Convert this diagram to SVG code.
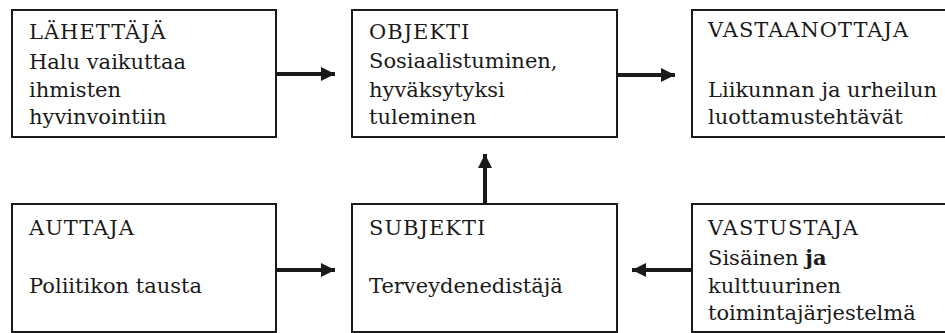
<svg xmlns="http://www.w3.org/2000/svg" width="945" height="333" viewBox="0 0 945 333">
  <defs>
    <style>
      .box { fill: #fff; stroke: #1a1a1a; stroke-width: 2; }
      .txt { font-family: "DejaVu Serif", "Liberation Serif", serif; font-size: 21px; fill: #1a1a1a; }
      .cap { letter-spacing: 1px; }
      .link { stroke: #1a1a1a; stroke-width: 4; fill: none; }
    </style>
    <marker id="head" viewBox="0 0 14 14" refX="14" refY="7" markerWidth="14" markerHeight="14" markerUnits="userSpaceOnUse" orient="auto">
      <path d="M0,0 L14,7 L0,14 Z" fill="#1a1a1a"/>
    </marker>
  </defs>
  <rect width="945" height="333" fill="#fff"/>

  <g id="lahettaja">
    <rect class="box" x="12" y="10" width="264" height="127"/>
    <text class="txt cap" x="29" y="39">LÄHETTÄJÄ</text>
    <text class="txt" x="29" y="69">Halu vaikuttaa</text>
    <text class="txt" x="29" y="97">ihmisten</text>
    <text class="txt" x="29" y="124">hyvinvointiin</text>
  </g>

  <g id="objekti">
    <rect class="box" x="352" y="10" width="265" height="127"/>
    <text class="txt cap" x="369" y="39">OBJEKTI</text>
    <text class="txt" x="369" y="68">Sosiaalistuminen,</text>
    <text class="txt" x="369" y="97">hyväksytyksi</text>
    <text class="txt" x="369" y="124">tuleminen</text>
  </g>

  <g id="vastaanottaja">
    <rect class="box" x="692" y="10" width="260" height="127"/>
    <text class="txt cap" x="708" y="37">VASTAANOTTAJA</text>
    <text class="txt" x="708" y="97">Liikunnan ja urheilun</text>
    <text class="txt" x="708" y="124">luottamustehtävät</text>
  </g>

  <g id="auttaja">
    <rect class="box" x="12" y="204" width="264" height="128"/>
    <text class="txt cap" x="29" y="235">AUTTAJA</text>
    <text class="txt" x="29" y="293">Poliitikon tausta</text>
  </g>

  <g id="subjekti">
    <rect class="box" x="352" y="204" width="265" height="128"/>
    <text class="txt cap" x="369" y="235">SUBJEKTI</text>
    <text class="txt" x="369" y="293">Terveydenedistäjä</text>
  </g>

  <g id="vastustaja">
    <rect class="box" x="692" y="204" width="260" height="128"/>
    <text class="txt cap" x="708" y="235">VASTUSTAJA</text>
    <text class="txt" x="708" y="265">Sisäinen <tspan font-weight="bold">ja</tspan></text>
    <text class="txt" x="708" y="293">kulttuurinen</text>
    <text class="txt" x="708" y="320">toimintajärjestelmä</text>
  </g>

  <g id="connectors">
    <line class="link" x1="277" y1="74" x2="335" y2="74" marker-end="url(#head)"/>
    <line class="link" x1="618" y1="75" x2="675" y2="75" marker-end="url(#head)"/>
    <line class="link" x1="485" y1="203" x2="485" y2="154" marker-end="url(#head)"/>
    <line class="link" x1="277" y1="270" x2="335" y2="270" marker-end="url(#head)"/>
    <line class="link" x1="691" y1="270" x2="632" y2="270" marker-end="url(#head)"/>
  </g>
</svg>
